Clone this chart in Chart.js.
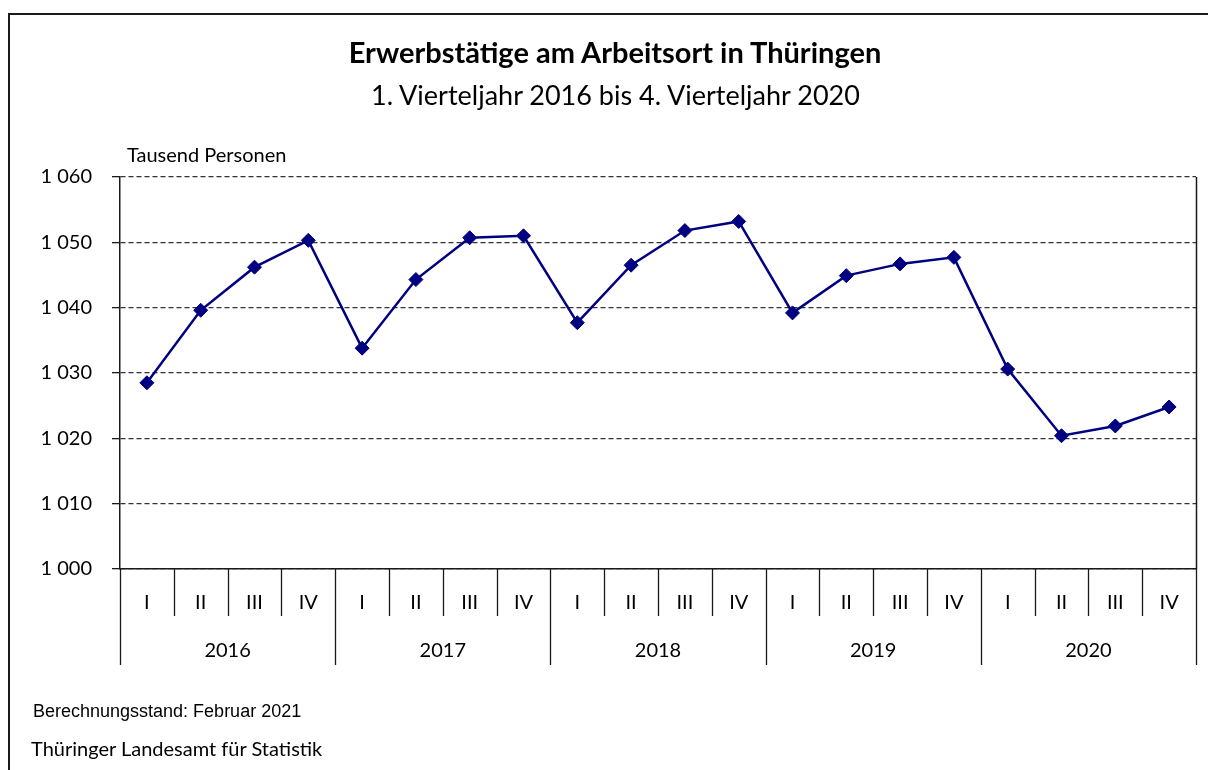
<!DOCTYPE html>
<html lang="de">
<head>
<meta charset="utf-8">
<title>Erwerbstätige am Arbeitsort in Thüringen</title>
<script src="https://cdn.jsdelivr.net/npm/chart.js@4.4.1/dist/chart.umd.min.js"></script>
<style>
  html, body { margin: 0; padding: 0; background: #fff; overflow: hidden; }
  #wrap { position: relative; width: 1208px; height: 770px; }
  #frame { position: absolute; left: 8px; top: 13px; width: 1300px; height: 900px;
           border-left: 2px solid #1a1a1a; border-top: 2px solid #1a1a1a; }
  .txt { position: absolute; color: #000; white-space: nowrap; line-height: 1.2;
         font-family: Lato, "Noto Sans", sans-serif; }
  #title { left: 0; width: 1230px; top: 35px; text-align: center; font-size: 29px; font-weight: bold; }
  #subtitle { left: 0; width: 1231px; top: 79px; text-align: center; font-size: 27px; }
  #unit { left: 127px; top: 142px; font-size: 20px; }
  #stand { left: 33px; top: 701px; font-size: 18px; line-height: 1.15; font-family: "Liberation Sans", Arial, sans-serif; }
  #source { left: 31px; top: 736px; font-size: 20px; }
  canvas { position: absolute; left: 0; top: 0; }
</style>
</head>
<body>
<div id="wrap">
  <div id="frame"></div>
  <canvas id="chart" width="1208" height="770"></canvas>
  <div class="txt" id="title">Erwerbstätige am Arbeitsort in Thüringen</div>
  <div class="txt" id="subtitle">1. Vierteljahr 2016 bis 4. Vierteljahr 2020</div>
  <div class="txt" id="unit">Tausend Personen</div>
  <div class="txt" id="stand">Berechnungsstand: Februar 2021</div>
  <div class="txt" id="source">Thüringer Landesamt für Statistik</div>
</div>
<script>
var years = ['2016', '2017', '2018', '2019', '2020'];
var quarters = ['I', 'II', 'III', 'IV'];
// Erwerbstätige in Tausend Personen, je Quartal
var values2016 = [1028.5, 1039.6, 1046.2, 1050.3];
var values2017 = [1033.8, 1044.3, 1050.7, 1051.0];
var values2018 = [1037.7, 1046.5, 1051.8, 1053.2];
var values2019 = [1039.2, 1044.9, 1046.7, 1047.7];
var values2020 = [1030.6, 1020.4, 1021.9, 1024.8];
var yMin = 1000, yMax = 1060, yStep = 10;

(function () {
  var labels = [];
  years.forEach(function (y) {
    quarters.forEach(function (q) { labels.push([q, y]); });
  });
  var series = [].concat(values2016, values2017, values2018, values2019, values2020);

  var fontFamily = 'Lato, "Noto Sans", sans-serif';

  function fmt(v) {
    return String(v).replace(/\B(?=(\d{3})+(?!\d))/g, ' ');
  }

  // Quartals- und Jahresbeschriftung unter der Achse
  var categoryAxis = {
    id: 'categoryAxis',
    afterDraw: function (chart) {
      var ctx = chart.ctx;
      var xs = chart.scales.x;
      var area = chart.chartArea;
      var n = labels.length;
      var step = (area.right - area.left) / n;
      ctx.save();
      ctx.strokeStyle = '#1a1a1a';
      ctx.lineWidth = 1.3;
      for (var i = 0; i <= n; i++) {
        var bx = i < n ? xs.getPixelForValue(i) - step / 2 : xs.getPixelForValue(n - 1) + step / 2;
        var len = (i % quarters.length === 0) ? 96 : 47;
        ctx.beginPath();
        ctx.moveTo(Math.round(bx) + 0.5, area.bottom);
        ctx.lineTo(Math.round(bx) + 0.5, area.bottom + len);
        ctx.stroke();
      }
      // rechter Rand der Zeichenfläche
      ctx.lineWidth = 1.5;
      ctx.beginPath();
      ctx.moveTo(Math.round(area.right) + 0.5, area.top);
      ctx.lineTo(Math.round(area.right) + 0.5, area.bottom);
      ctx.stroke();

      ctx.fillStyle = '#000';
      ctx.textAlign = 'center';
      ctx.textBaseline = 'middle';
      ctx.font = '20px ' + fontFamily;
      for (var j = 0; j < n; j++) {
        ctx.fillText(labels[j][0], xs.getPixelForValue(j), area.bottom + 34);
      }
      for (var k = 0; k < years.length; k++) {
        var first = xs.getPixelForValue(k * quarters.length);
        var last = xs.getPixelForValue(k * quarters.length + quarters.length - 1);
        ctx.fillText(years[k], (first + last) / 2, area.bottom + 82);
      }
      ctx.restore();
    }
  };

  var ctx = document.getElementById('chart').getContext('2d');
  new Chart(ctx, {
    type: 'line',
    data: {
      labels: labels,
      datasets: [{
        label: 'Erwerbstätige',
        data: series,
        borderColor: '#000080',
        backgroundColor: '#000080',
        borderWidth: 2.5,
        tension: 0,
        fill: false,
        pointStyle: 'rectRot',
        pointRadius: 7,
        pointBorderWidth: 1,
        pointBackgroundColor: '#000080',
        pointBorderColor: '#000080'
      }]
    },
    options: {
      responsive: false,
      animation: false,
      layout: { padding: { left: 0, right: 12, top: 177, bottom: 0 } },
      plugins: {
        legend: { display: false },
        tooltip: { enabled: false },
        title: { display: false }
      },
      scales: {
        x: {
          offset: true,
          grid: { display: false },
          ticks: { display: false },
          border: { display: true, color: '#1a1a1a', width: 1.5 },
          afterFit: function (scale) { scale.height = 201; }
        },
        y: {
          min: yMin,
          max: yMax,
          ticks: {
            stepSize: yStep,
            color: '#000',
            padding: 20,
            font: { family: fontFamily, size: 20 },
            callback: function (v) { return fmt(v); }
          },
          grid: {
            color: '#333',
            lineWidth: 1.3,
            tickBorderDash: [],
            tickLength: 8,
            tickColor: '#1a1a1a'
          },
          border: { display: true, color: '#1a1a1a', width: 1.5, dash: [5, 3] },
          afterFit: function (scale) { scale.width = 120; }
        }
      }
    },
    plugins: [categoryAxis]
  });
})();
</script>
</body>
</html>
